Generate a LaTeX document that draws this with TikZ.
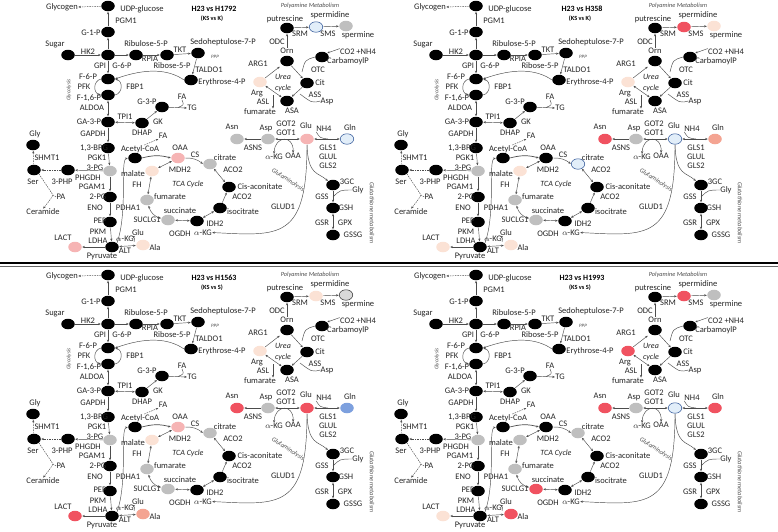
\documentclass[tikz,border=0pt]{standalone}
\usepackage{fontspec}
\setmainfont{Carlito}
\usetikzlibrary{arrows.meta,shapes.geometric,calc}

\definecolor{MetGrey}{RGB}{191,191,191}
\definecolor{MetPeach}{RGB}{251,226,213}
\definecolor{MetPink}{RGB}{246,180,180}
\definecolor{MetSalmon}{RGB}{244,164,146}
\definecolor{MetRed}{RGB}{240,82,96}
\definecolor{MetLBlue}{RGB}{226,238,249}
\definecolor{MetBlue}{RGB}{125,160,222}
\definecolor{MetEdge}{RGB}{47,85,151}

\tikzset{
  met/.style={ellipse,minimum width=13.5pt,minimum height=10.5pt,inner sep=0pt,fill=black},
  fBlack/.style={fill=black},
  fGrey/.style={fill=MetGrey},
  fPeach/.style={fill=MetPeach},
  fPink/.style={fill=MetPink},
  fSalmon/.style={fill=MetSalmon},
  fRed/.style={fill=MetRed},
  fBlue/.style={fill=MetBlue},
  fLBlue/.style={fill=MetLBlue,draw=MetEdge,line width=0.5pt},
  fGreyO/.style={fill=black!15,draw=black!80,line width=0.5pt},
  lbl/.style={inner sep=0pt,text=black!85},
  ttl/.style={inner sep=0pt,font=\fontsize{8}{9}\selectfont\bfseries},
  subttl/.style={inner sep=0pt,font=\fontsize{6.3}{7}\selectfont\bfseries},
  tiny/.style={inner sep=0pt,text=black!70,font=\fontsize{6.3}{7}\selectfont\itshape},
  pathname/.style={inner sep=0pt,text=black!85,font=\fontsize{8}{9}\selectfont\itshape},
  ln/.style={draw=black!70,line width=0.45pt},
  rx/.style={ln,-{Stealth[length=2.6pt,width=2.2pt]},shorten >=0.3pt,shorten <=0.3pt},
  rxx/.style={rx,{Stealth[length=2.6pt,width=2.2pt]}-{Stealth[length=2.6pt,width=2.2pt]}},
  rxd/.style={rx,dash pattern=on 1.5pt off 1pt},
}

% one comparison panel: #1,#2 offset, #3 title, #4 subtitle
\newcommand{\metpanel}[4]{%
\begin{scope}[shift={(#1,-#2)}]
  \node[ttl] (title) at (214,-9) {#3};
  \node[subttl] (subtitle) at (212,-19) {#4};
  % glycolysis, PPP
  \node[met] (udp) at (108,-6) {};
  \node[met] (g1p) at (108,-32) {};
  \node[met] (sug) at (68,-55) {};
  \node[met] (g6p) at (108,-55) {};
  \node[met] (ru5p) at (136,-55) {};
  \node[met] (r5p) at (167,-55) {};
  \node[met] (s7p) at (198,-53) {};
  \node[met] (e4p) at (191,-80) {};
  \node[met] (f6p) at (108,-79) {};
  \node[met] (f16p) at (108,-95) {};
  \node[met] (ga3p) at (108,-122) {};
  \node[met] (dhap) at (142,-123) {};
  \node[met] (g3p) at (162,-107) {};
  \node[met] (bpg) at (108,-148) {};
  \node[met,sPG] (pg3) at (110,-171) {};
  \node[met] (php) at (68,-170) {};
  \node[met] (ser) at (34,-170) {};
  \node[met] (gly) at (33,-145) {};
  \node[met] (pg2) at (110,-197) {};
  \node[met] (pep) at (110,-222) {};
  \node[met] (pyr) at (112,-247) {};
  \node[met,sLact] (lact) at (75,-247) {};
  \node[met,sAla] (ala) at (143,-245) {};
  % TCA cycle
  \node[met] (acoa) at (135,-158) {};
  \node[met,sOAA] (oaa) at (178,-158) {};
  \node[met,sCit] (cit) at (210,-164) {};
  \node[met] (cis) at (229,-187) {};
  \node[met] (icit) at (220,-208) {};
  \node[met] (akg) at (197,-221) {};
  \node[met,sSuc] (suc) at (168,-220) {};
  \node[met,sFum] (fum) at (147,-200) {};
  \node[met,sMal] (mal) at (152,-171) {};
  % amino acids, glutathione
  \node[met,sAsn] (asn) at (237,-139) {};
  \node[met,sAsp] (asp) at (268,-139) {};
  \node[met,sGlu] (glu) at (307,-139) {};
  \node[met,sGln] (gln) at (347,-139) {};
  \node[met] (gc3) at (333,-185) {};
  \node[met] (gsh) at (333,-208) {};
  \node[met] (gssg) at (333,-235) {};
  % polyamines, urea cycle
  \node[met] (put) at (287,-28) {};
  \node[met,sSpd] (spd) at (316,-27) {};
  \node[met,sSpm] (spm) at (346,-26) {};
  \node[met] (orn) at (287,-61) {};
  \node[met,sArg] (arg) at (260,-82) {};
  \node[met] (asa) at (287,-101) {};
  \node[met] (citr) at (307,-83) {};
  \node[met] (cbp) at (322,-57) {};

  % labels
  \node[lbl] (tGlycogen) at (62,-7) {Glycogen};
  \node[lbl] (tUdp) at (142,-9) {UDP-glucose};
  \node[lbl] (tPgm) at (126,-21) {PGM1};
  \node[lbl] (tG1p) at (91,-33) {G-1-P};
  \node[lbl] (tSugar) at (55,-44) {Sugar};
  \node[lbl] (tHk) at (88,-52) {HK2};
  \node[lbl] (tGpi) at (100,-66) {GPI};
  \node[lbl] (tG6p) at (122,-66) {G-6-P};
  \node[lbl] (tRu5p) at (146,-44) {Ribulose-5-P};
  \node[lbl] (tRpia) at (150,-59) {RPIA};
  \node[lbl] (tTkt) at (180,-50) {TKT};
  \node[lbl] (tR5p) at (172,-66) {Ribose-5-P};
  \node[lbl] (tS7p) at (223,-42) {Sedoheptulose-7-P};
  \node[tiny,font=\fontsize{5}{6}\selectfont\itshape] (tPpp) at (215,-57) {PPP};
  \node[lbl] (tTaldo) at (209,-70) {TALDO1};
  \node[lbl] (tE4p) at (222,-82) {Erythrose-4-P};
  \node[lbl] (tF6p) at (88,-77) {F-6-P};
  \node[lbl] (tPfk) at (84,-87) {PFK};
  \node[lbl] (tFbp) at (135,-87) {FBP1};
  \node[lbl] (tF16p) at (89,-98) {F-1,6-P};
  \node[tiny,font=\fontsize{5.5}{6}\selectfont\itshape,rotate=90] (tGlycolysis) at (69,-90) {Glycolysis};
  \node[lbl] (tAldoa) at (92,-108) {ALDOA};
  \node[lbl] (tGa3p) at (89,-122) {GA-3-P};
  \node[lbl] (tTpi) at (125,-117) {TPI1};
  \node[lbl] (tDhap) at (142,-133) {DHAP};
  \node[lbl] (tGk) at (158,-122) {GK};
  \node[lbl] (tG3p) at (147,-102) {G-3-P};
  \node[lbl] (tFAa) at (182,-97) {FA};
  \node[lbl] (tTG) at (192,-108) {TG};
  \node[lbl] (tGapdh) at (93,-134) {GAPDH};
  \node[lbl] (tFAb) at (163,-136) {FA};
  \node[lbl] (tBpg) at (94,-148) {1,3-BPG};
  \node[lbl] (tPgk) at (97,-158) {PGK1};
  \node[lbl] (tPg3) at (95,-167.5) {3-PG};
  \node[lbl] (tPhgdh) at (88,-177.5) {PHGDH};
  \node[lbl] (tPhp) at (62,-182) {3-PHP};
  \node[lbl] (tSer) at (33,-182) {Ser};
  \node[lbl] (tShmt) at (47,-158) {SHMT1};
  \node[lbl] (tGly) at (35,-134) {Gly};
  \node[lbl] (tPA) at (61,-197) {PA};
  \node[lbl] (tCer) at (43,-212) {Ceramide};
  \node[lbl] (tPgam) at (92,-187) {PGAM1};
  \node[lbl] (tPg2) at (98,-196.5) {2-PG};
  \node[lbl] (tEno) at (95,-208) {ENO};
  \node[lbl] (tPdha) at (128,-208) {PDHA1};
  \node[lbl] (tPep) at (100,-221) {PEP};
  \node[lbl] (tPkm) at (98,-231.5) {PKM};
  \node[lbl] (tLdha) at (98,-240.5) {LDHA};
  \node[lbl] (tPyr) at (102,-256) {Pyruvate};
  \node[lbl] (tLact) at (63,-238) {LACT};
  \node[lbl] (tAkga) at (125,-239) {$\alpha$-KG};
  \node[lbl] (tGlua) at (138,-233) {Glu};
  \node[lbl] (tAlt) at (125,-250.5) {ALT};
  \node[lbl] (tAla) at (155,-248) {Ala};
  % TCA labels
  \node[lbl] (tAcoa) at (140,-149) {Acetyl-CoA};
  \node[lbl] (tOaa) at (180,-148) {OAA};
  \node[lbl] (tCs) at (195,-155) {CS};
  \node[lbl] (tCit) at (225,-158) {citrate};
  \node[lbl] (tAcoA) at (233,-169.5) {ACO2};
  \node[lbl] (tCis) at (260,-187) {Cis-aconitate};
  \node[lbl] (tAcoB) at (242,-197) {ACO2};
  \node[lbl] (tIcit) at (243,-212) {isocitrate};
  \node[lbl] (tIdh) at (215,-224) {IDH2};
  \node[lbl] (tAkg) at (203,-232.5) {$\alpha$-KG};
  \node[lbl] (tOgdh) at (180,-233.5) {OGDH};
  \node[lbl] (tSuc) at (180,-211) {succinate};
  \node[lbl] (tSuclg) at (147,-220) {SUCLG1};
  \node[lbl] (tFum) at (170,-197) {fumarate};
  \node[lbl] (tFh) at (137,-185) {FH};
  \node[lbl] (tMal) at (133,-174) {malate};
  \node[lbl] (tMdh) at (180,-170) {MDH2};
  \node[pathname] (tTca) at (188,-184) {TCA Cycle};
  % amino acid labels
  \node[lbl] (tAsn) at (232,-127) {Asn};
  \node[lbl] (tAsns) at (253,-148) {ASNS};
  \node[lbl] (tAsp) at (266,-128) {Asp};
  \node[lbl] (tGot2) at (286,-124) {GOT2};
  \node[lbl] (tGot1) at (286,-132.5) {GOT1};
  \node[lbl] (tAkgb) at (274,-157) {$\alpha$-KG};
  \node[lbl] (tOaab) at (293,-156) {OAA};
  \node[lbl] (tGlu) at (306,-126) {Glu};
  \node[lbl] (tNh4) at (324,-129) {NH4};
  \node[lbl] (tGln) at (350,-128) {Gln};
  \node[lbl] (tGls1) at (328,-148) {GLS1};
  \node[lbl] (tGlul) at (328,-157) {GLUL};
  \node[lbl] (tGls2) at (328,-166) {GLS2};
  \node[tiny,rotate=-33] (tGlnlys) at (288,-180) {Glutaminolysis};
  \node[lbl] (tGlud) at (283,-207) {GLUD1};
  \node[lbl] (tGc3) at (347,-182) {3GC};
  \node[lbl] (tGlyb) at (358,-190) {Gly};
  \node[lbl] (tGss) at (322,-197) {GSS};
  \node[lbl] (tGsh) at (346,-208) {GSH};
  \node[lbl] (tGsr) at (322,-223) {GSR};
  \node[lbl] (tGpx) at (345,-223) {GPX};
  \node[lbl] (tGssg) at (353,-235) {GSSG};
  \node[tiny,rotate=-90] (tGlut) at (372,-213) {Glutathione metabolism};
  % polyamine and urea labels
  \node[tiny] (tPoly) at (310,-6) {Polyamine Metabolism};
  \node[lbl] (tPut) at (285,-19) {putrescine};
  \node[lbl] (tSpd) at (330,-15) {spermidine};
  \node[lbl] (tSrm) at (300,-33.5) {SRM};
  \node[lbl] (tSms) at (328,-33.5) {SMS};
  \node[lbl] (tSpm) at (358,-35) {spermine};
  \node[lbl] (tOdc) at (277,-42) {ODC};
  \node[lbl] (tOrn) at (287,-51) {Orn};
  \node[lbl] (tArg1) at (258,-64) {ARG1};
  \node[lbl] (tArg) at (257,-93) {Arg};
  \node[lbl] (tAsl) at (263,-102) {ASL};
  \node[lbl] (tFumb) at (260,-112) {fumarate};
  \node[lbl] (tAsa) at (292,-111) {ASA};
  \node[lbl] (tCitr) at (320,-83) {Cit};
  \node[lbl] (tAss) at (315,-95) {ASS};
  \node[lbl] (tAspb) at (327,-101) {Asp};
  \node[lbl] (tOtc) at (318,-70) {OTC};
  \node[lbl] (tCo2) at (358,-51.5) {CO2 +NH4};
  \node[lbl] (tCbp) at (348,-61) {CarbamoylP};
  \node[pathname] (tUrea) at (283,-77) {Urea};
  \node[pathname] (tCycle) at (283,-88) {cycle};

  % connectors, glycolysis
  \draw[rxd] (udp) -- (tGlycogen.east);
  \draw[rx] (g1p) -- (udp);
  \draw[rx] (g6p) -- (g1p);
  \draw[rx] (sug) -- (g6p);
  \draw[rx] (g6p) -- (ru5p);
  \draw[rx] (ru5p) -- (r5p);
  \draw[rx] (r5p) -- (s7p);
  \draw[rx] (s7p) -- (e4p);
  \draw[rx] (e4p.west) .. controls (168,-69) and (146,-68) .. (f6p.east);
  \draw[rx] (g6p) -- (f6p);
  \draw[rx] (f6p.west) .. controls (93,-81) and (93,-93) .. (f16p.west);
  \draw[rx] (f16p.east) .. controls (123,-93) and (123,-81) .. (f6p.east);
  \draw[rxx] (f16p) -- (ga3p);
  \draw[rxx] (ga3p) -- (dhap);
  \draw[rx] (dhap) -- (g3p);
  \draw[rx] (g3p) -- (tTG.west);
  \coordinate (fajoin) at (178,-107.5);
  \draw[ln] (tFAa.south) .. controls (184,-105) .. (fajoin);
  \draw[rx] (ga3p) -- (bpg);
  \draw[rx] (bpg) -- (pg3);
  \draw[rx] (pg3) -- (php);
  \draw[rxd] (php) -- (ser);
  \draw[rxd] (ser) -- (gly);
  \coordinate (pajoin) at (53,-195);
  \draw[ln,dash pattern=on 1.5pt off 1pt] (ser.south east) .. controls (46,-184) .. (pajoin) -- (tPA.west);
  \draw[rxd] (pajoin) .. controls (50,-200) .. (tCer.north);
  \draw[rx] (pg3) -- (pg2);
  \draw[rx] (pg2) -- (pep);
  \draw[rx] (pep) -- (pyr);
  \draw[rx] (pyr) -- (lact);
  \draw[rxx] (pyr) -- (ala);
  \draw[rx] (tAkga.south east) to[bend right=50] (tGlua.south west);
  \draw[rx] (pyr.north east) .. controls (128,-212) and (120,-160) .. (acoa.west);
  \draw[rxd] (tAcoa.north) ++(4,0) -- (tFAb.south west);
  % TCA
  \draw[rx,line width=0.7pt] (acoa.east) to[bend left=15] (oaa.west);
  \draw[rx] (oaa.east) to[bend left=20] (cit.west);
  \draw[rxx] (cit) -- (cis);
  \draw[rx] (icit) -- (cis);
  \draw[rxx] (icit) -- (akg);
  \draw[rxx] (akg) -- (suc);
  \draw[rxx] (suc) to[bend left=30] (fum);
  \draw[rxx] (fum) -- (mal);
  \draw[rxx] (mal) -- (oaa);
  % amino acids
  \draw[rx] (asp) -- (asn);
  \draw[rxx] (asp) -- (glu);
  \draw[rxx] (tAkgb.north) .. controls (275,-135) and (294,-135) .. (tOaab.north);
  \draw[rxx] (glu) -- (gln);
  \coordinate (nhjoin) at (328,-139);
  \draw[ln] (tNh4.south west) .. controls (320,-138) .. (nhjoin);
  \draw[rx] (glu.south) .. controls (308,-176) and (318,-172) .. (gc3.north west);
  \draw[rx] (glu.south) .. controls (307,-240) and (280,-236) .. (tAkg.east);
  \draw[rx] (gc3) -- (gsh);
  \coordinate (glyjoin) at (333,-197);
  \draw[ln] (tGlyb.west) .. controls (340,-190) .. (glyjoin);
  \draw[rxx] (gsh) -- (gssg);
  % polyamines, urea
  \draw[rx] (put) -- (spd);
  \draw[rx] (spd) -- (spm);
  \draw[rx] (tOrn.north) -- (put.south);
  \draw[rx] (orn) -- (citr);
  \coordinate (cbpjoin) at (302,-72);
  \draw[ln] (cbp.west) .. controls (305,-60) .. (cbpjoin);
  \draw[rx] (citr) -- (asa);
  \coordinate (aspjoin) at (300,-94);
  \draw[ln] (tAspb.west) .. controls (312,-103) .. (aspjoin);
  \draw[rxx] (arg) -- (asa);
  \coordinate (aslfrom) at (273,-95);
  \draw[rx] (aslfrom) -- (tFumb.north -| aslfrom);
  \draw[rx,shorten >=3pt] (arg.north east) -- (orn.south west);
  \draw[rx] (tCo2.north west) -- (cbp.north east);
\end{scope}}

\begin{document}
\begin{tikzpicture}[x=1pt,y=1pt,font=\fontsize{8.5}{9}\selectfont]
  \useasboundingbox[fill=white] (0,0) rectangle (778,-531);

  \tikzset{sSpd/.style={fLBlue}, sSpm/.style={fGrey}, sArg/.style={fPeach},
    sPG/.style={fGrey}, sLact/.style={fPink}, sAla/.style={fPeach},
    sMal/.style={fPeach}, sOAA/.style={fPink}, sCit/.style={fGrey},
    sFum/.style={fGrey}, sSuc/.style={fGrey}, sAsn/.style={fGrey},
    sAsp/.style={fGrey}, sGlu/.style={fPink}, sGln/.style={fLBlue}}
  \metpanel{0}{0}{H23 vs H1792}{(KS vs K)}

  \tikzset{sSpd/.style={fRed}, sSpm/.style={fPeach}, sArg/.style={fPeach},
    sPG/.style={fGrey}, sLact/.style={fPeach}, sAla/.style={fPeach},
    sMal/.style={fPeach}, sOAA/.style={fBlack}, sCit/.style={fLBlue},
    sFum/.style={fGrey}, sSuc/.style={fGrey}, sAsn/.style={fRed},
    sAsp/.style={fGrey}, sGlu/.style={fLBlue}, sGln/.style={fSalmon}}
  \metpanel{368}{0}{H23 vs H358}{(KS vs K)}

  \tikzset{sSpd/.style={fPeach}, sSpm/.style={fGreyO}, sArg/.style={fPeach},
    sPG/.style={fGrey}, sLact/.style={fRed}, sAla/.style={fSalmon},
    sMal/.style={fPeach}, sOAA/.style={fPink}, sCit/.style={fGrey},
    sFum/.style={fGrey}, sSuc/.style={fGrey}, sAsn/.style={fRed},
    sAsp/.style={fGrey}, sGlu/.style={fRed}, sGln/.style={fBlue}}
  \metpanel{0}{269}{H23 vs H1563}{(KS vs S)}

  \tikzset{sSpd/.style={fRed}, sSpm/.style={fGrey}, sArg/.style={fRed},
    sPG/.style={fGrey}, sLact/.style={fPeach}, sAla/.style={fRed},
    sMal/.style={fGrey}, sOAA/.style={fBlack}, sCit/.style={fGrey},
    sFum/.style={fGrey}, sSuc/.style={fRed}, sAsn/.style={fRed},
    sAsp/.style={fGrey}, sGlu/.style={fLBlue}, sGln/.style={fRed}}
  \metpanel{368}{269}{H23 vs H1993}{(KS vs S)}

  % divider between the rows
  \coordinate (divL) at (0,-263);
  \coordinate (divR) at (778,-263);
  \draw[line width=2.2pt] (divL) -- (divR);
  \draw[line width=0.5pt,black!60] ($(divL)+(0,-3)$) -- ($(divR)+(0,-3)$);
\end{tikzpicture}
\end{document}
